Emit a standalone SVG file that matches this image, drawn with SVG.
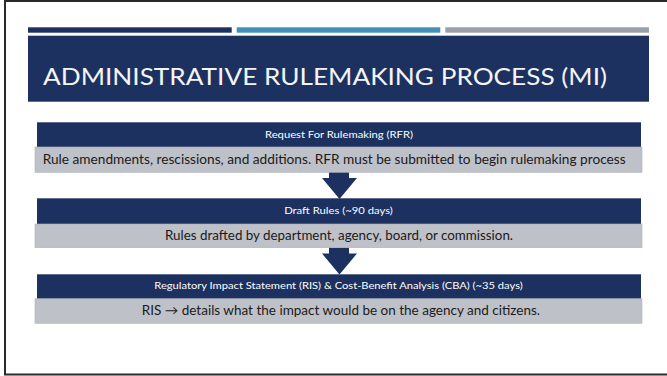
<svg xmlns="http://www.w3.org/2000/svg" width="667" height="376" viewBox="0 0 667 376">
<style>
.hdr{fill:#1c3160}
.body{fill:#bfc1c9;stroke:#b0b3bc;stroke-width:0.6}
.ht{font-family:Lato,"Open Sans","Liberation Sans",sans-serif;font-size:9.6px;fill:#ffffff;text-anchor:middle}
.bt{font-family:Lato,"Open Sans","Liberation Sans",sans-serif;font-size:12.8px;fill:#1a1a1a;text-anchor:start}
.arrow{fill:#1c3160}
</style>
<rect x="0" y="0" width="667" height="376" fill="#ffffff"/>
<rect x="5" y="1" width="700" height="373.5" fill="none" stroke="#2a2a2a" stroke-width="2"/>
<g id="title">
<rect x="28" y="27.3" width="203.7" height="5.4" fill="#1c3160"/>
<rect x="236.7" y="27.3" width="203.6" height="5.4" fill="#4590b8"/>
<rect x="445.3" y="27.3" width="203.7" height="5.4" fill="#9aa0a8"/>
<rect x="28" y="35.7" width="621" height="66" fill="#1c3160"/>
<text x="43" y="85" font-family="Lato,'Open Sans','Liberation Sans',sans-serif" font-size="23.5" fill="#f4f4f4" textLength="564" lengthAdjust="spacingAndGlyphs">ADMINISTRATIVE RULEMAKING PROCESS (MI)</text>
</g>
<g id="connectors">
<polygon class="arrow" points="329,172 349,172 349,178 357,178 339.5,199 322,178 329,178"/>
<polygon class="arrow" points="329,247.5 349,247.5 349,253.5 357,253.5 339.5,274.5 322,253.5 329,253.5"/>
</g>
<g id="node-rfr">
<rect class="hdr" x="37" y="122.3" width="604" height="24.7"/>
<rect class="body" x="35" y="147" width="607" height="25.3"/>
<text class="ht" x="339" y="138" textLength="148" lengthAdjust="spacingAndGlyphs">Request For Rulemaking (RFR)</text>
<text class="bt" x="42.7" y="163.5" textLength="583" lengthAdjust="spacingAndGlyphs">Rule amendments, rescissions, and additions. RFR must be submitted to begin rulemaking process</text>
</g>
<g id="node-draft">
<rect class="hdr" x="37" y="198.3" width="604" height="25.7"/>
<rect class="body" x="35" y="224" width="607" height="23.7"/>
<text class="ht" x="338.5" y="214.3" textLength="108.7" lengthAdjust="spacingAndGlyphs">Draft Rules (~90 days)</text>
<text class="bt" x="165" y="239.5" textLength="348" lengthAdjust="spacingAndGlyphs">Rules drafted by department, agency, board, or commission.</text>
</g>
<g id="node-ris">
<rect class="hdr" x="37" y="274.3" width="604" height="24.5"/>
<rect class="body" x="35" y="298.8" width="607" height="24.5"/>
<text class="ht" x="338.5" y="289.3" textLength="368.4" lengthAdjust="spacingAndGlyphs">Regulatory Impact Statement (RIS) &amp; Cost-Benefit Analysis (CBA) (~35 days)</text>
<text class="bt" x="141.7" y="314.5" textLength="398.3" lengthAdjust="spacingAndGlyphs">RIS → details what the impact would be on the agency and citizens.</text>
</g>
</svg>
